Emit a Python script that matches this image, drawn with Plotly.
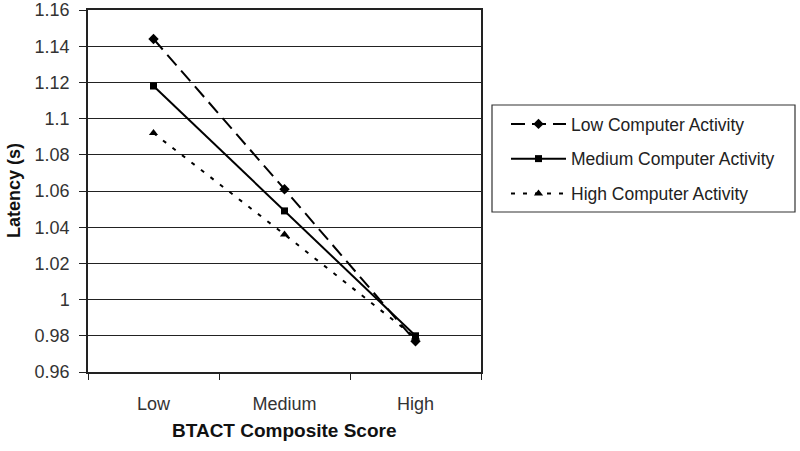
import plotly.graph_objects as go

categories = ["Low", "Medium", "High"]
series_names = ["Low Computer Activity", "Medium Computer Activity", "High Computer Activity"]
low_activity = [1.144, 1.061, 0.977]
medium_activity = [1.118, 1.049, 0.980]
high_activity = [1.092, 1.036, 0.979]

styles = [
    dict(dash="14px,7px", symbol="diamond", size=8),
    dict(dash="solid", symbol="square", size=7),
    dict(dash="4px,8px", symbol="triangle-up", size=8),
]

fig = go.Figure()
for i, (name, vals, st) in enumerate(zip(series_names, [low_activity, medium_activity, high_activity], styles)):
    fig.add_trace(go.Scatter(
        x=categories, y=vals, name=name, mode="lines+markers", legendgroup=f"g{i}",
        line=dict(color="black", width=2, dash=st["dash"]),
        marker=dict(color="black", symbol=st["symbol"], size=st["size"]),
    ))

font = "Liberation Sans, Arial, sans-serif"
L, R, T, B = 88, 319, 10, 79
PW, PH = 800 - L - R, 451 - T - B
fig.update_layout(
    width=800, height=451,
    paper_bgcolor="white", plot_bgcolor="white",
    margin=dict(l=L, r=R, t=T, b=B),
    font=dict(family=font, size=17, color="#333"),
    xaxis=dict(
        type="category", range=[-0.5, 2.5], automargin=False,
        showline=True, linecolor="#222", linewidth=1.5, mirror=True,
        ticks="outside", tickson="boundaries", ticklen=6, tickcolor="#222",
        showgrid=False, ticklabelstandoff=15,
        tickfont=dict(size=18, color="#333"),
    ),
    yaxis=dict(
        range=[0.96, 1.16], tick0=0.96, dtick=0.02, automargin=False,
        showline=True, linecolor="#222", linewidth=1.5, mirror=True,
        ticks="outside", ticklen=7, tickcolor="#222",
        showgrid=True, gridcolor="#222", gridwidth=1.3,
        zeroline=False, ticklabelstandoff=6, ticklabeloverflow="allow",
        tickfont=dict(size=18, color="#333"),
    ),
    legend=dict(
        x=(506 - L) / PW, y=(372 - 106) / PH, xanchor="left", yanchor="top",
        borderwidth=0, bgcolor="rgba(0,0,0,0)",
        font=dict(size=17.5, color="#222"),
        itemwidth=55, tracegroupgap=9,
    ),
    showlegend=True,
    shapes=[
        dict(type="rect", xref="paper", yref="paper",
             x0=(492 - L) / PW, x1=(795 - L) / PW,
             y0=(372 - 212) / PH, y1=(372 - 105) / PH,
             line=dict(color="#333", width=1.2), fillcolor="rgba(0,0,0,0)", layer="below"),
    ],
    annotations=[
        dict(text="<b>BTACT Composite Score</b>", xref="paper", yref="paper",
             x=0.5, y=0, yshift=-58, xanchor="center", yanchor="middle",
             showarrow=False, font=dict(size=19, color="#111")),
        dict(text="<b>Latency (s)</b>", xref="paper", yref="paper",
             x=0, y=0.5, xshift=-74, xanchor="center", yanchor="middle",
             textangle=-90, showarrow=False, font=dict(size=18, color="#111")),
    ],
)

fig.write_html("out.html", config={"displayModeBar": False},
               post_script="document.body.style.margin='0';")
